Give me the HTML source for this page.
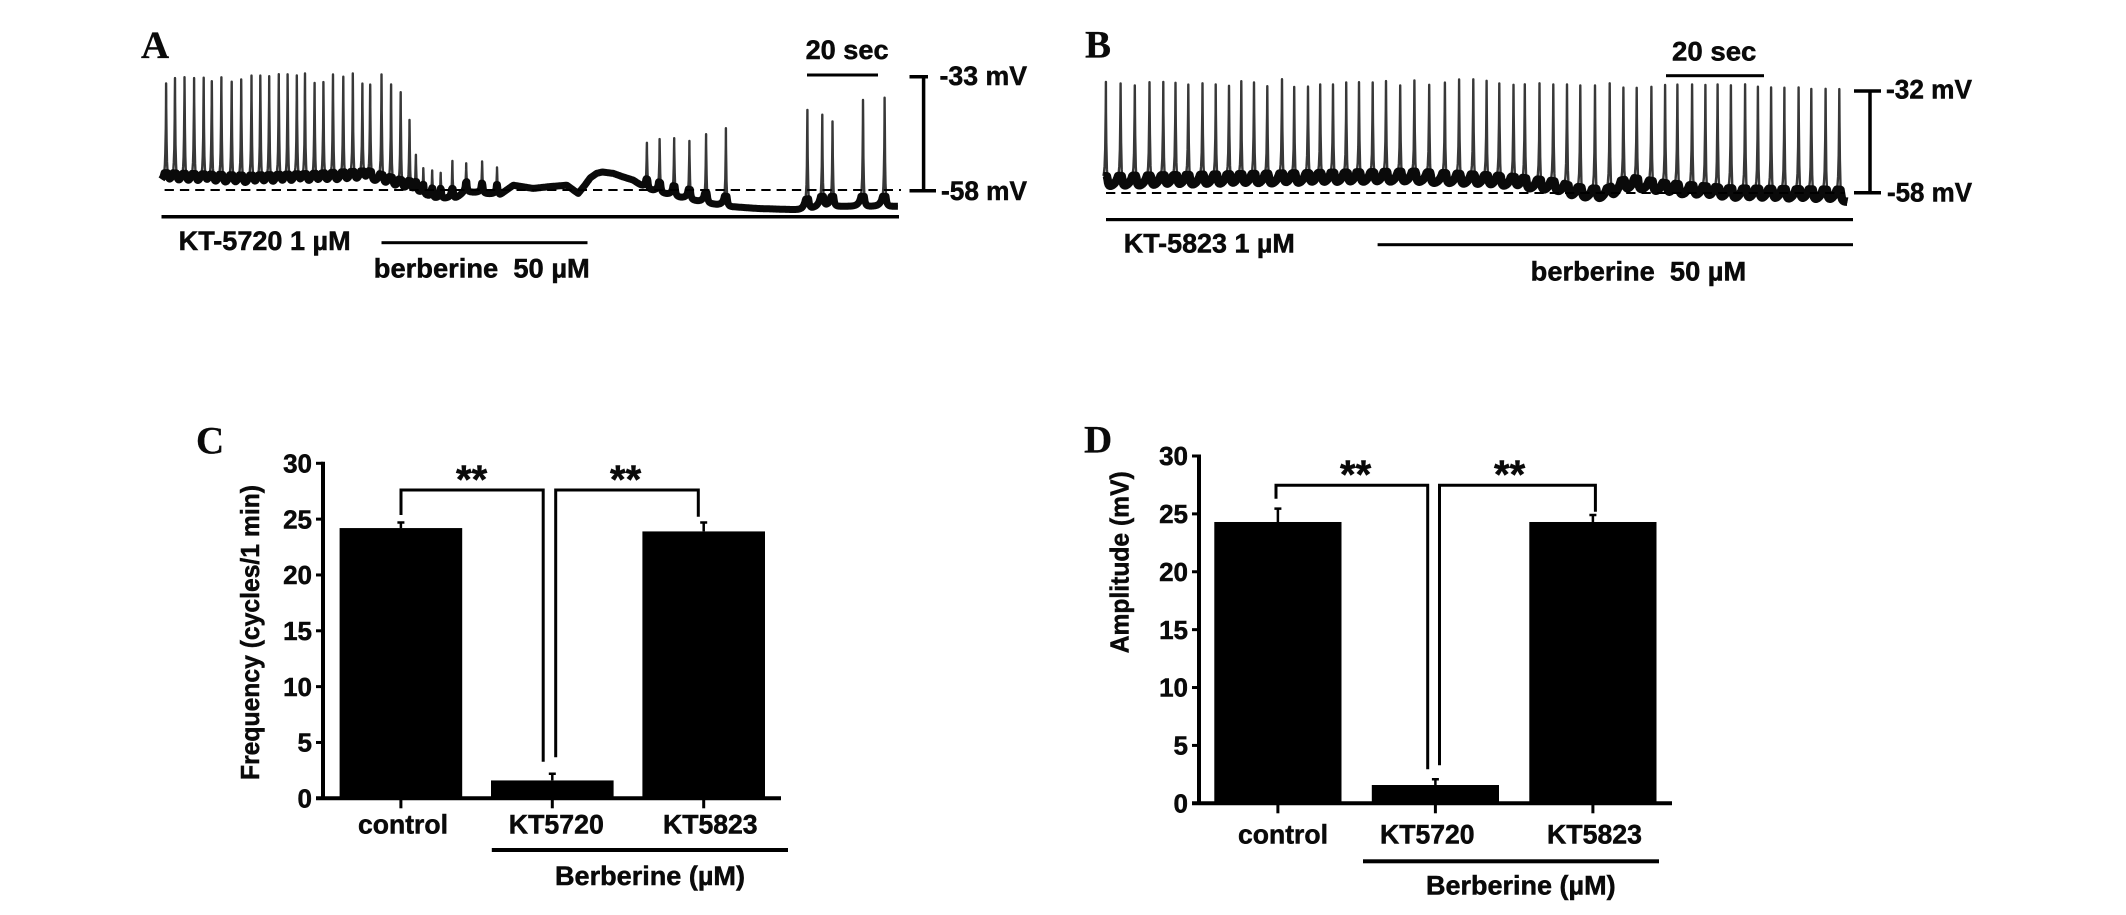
<!DOCTYPE html>
<html lang="en">
<head>
<meta charset="utf-8">
<title>KT-5720 and KT-5823 effects on berberine responses</title>
<style>
html,body{margin:0;padding:0;background:#fff;}
svg{display:block;}
text{font-family:"Liberation Sans",sans-serif;font-weight:700;fill:#0a0a0a;stroke:#0a0a0a;stroke-width:.5px;}
.serif{font-family:"Liberation Serif",serif;font-size:39px;stroke-width:.3px;}
</style>
</head>
<body>
<svg id="figure" width="2126" height="915" viewBox="0 0 2126 915" xmlns="http://www.w3.org/2000/svg">
<rect width="2126" height="915" fill="#fff"/>

<g id="panelA">
<text class="serif" x="141" y="58">A</text>
<g id="traceA"></g>
<line x1="164.6" x2="901" y1="190" y2="190" stroke="#000" stroke-width="2" stroke-dasharray="9.3 6"/>
<rect x="161.5" y="215" width="737.5" height="3.5" fill="#000"/>
<text x="178.7" y="250" font-size="27" textLength="172" lengthAdjust="spacingAndGlyphs">KT-5720 1 µM</text>
<rect x="381.5" y="241.2" width="206" height="3" fill="#000"/>
<text x="373.8" y="277.7" font-size="27" textLength="216" lengthAdjust="spacingAndGlyphs" xml:space="preserve">berberine  50 µM</text>
<text x="805.6" y="59" font-size="27" textLength="83" lengthAdjust="spacingAndGlyphs">20 sec</text>
<rect x="807" y="73.5" width="71" height="3" fill="#000"/>
<path d="M909.5 76.7H928M923.6 76.7V190.7M909.5 190.7H936" stroke="#000" stroke-width="3.5" fill="none"/>
<text x="939.5" y="85" font-size="27" textLength="87.5" lengthAdjust="spacingAndGlyphs">-33 mV</text>
<text x="941" y="200" font-size="27" textLength="86" lengthAdjust="spacingAndGlyphs">-58 mV</text>
</g>

<g id="panelB">
<text class="serif" x="1085" y="57.3">B</text>
<g id="traceB"></g>
<line x1="1106" x2="1845" y1="193" y2="193" stroke="#000" stroke-width="2" stroke-dasharray="9.3 6"/>
<rect x="1106" y="218" width="747" height="3.2" fill="#000"/>
<text x="1123.8" y="252.3" font-size="27" textLength="171" lengthAdjust="spacingAndGlyphs">KT-5823 1 µM</text>
<rect x="1377.6" y="243.2" width="475.4" height="3" fill="#000"/>
<text x="1530.7" y="280.7" font-size="27" textLength="215.5" lengthAdjust="spacingAndGlyphs" xml:space="preserve">berberine  50 µM</text>
<text x="1672" y="60.7" font-size="27" textLength="84.4" lengthAdjust="spacingAndGlyphs">20 sec</text>
<rect x="1666" y="74.2" width="98" height="3" fill="#000"/>
<path d="M1854 91H1881M1870 91V192.7M1854 192.7H1881" stroke="#000" stroke-width="3.5" fill="none"/>
<text x="1886" y="98.3" font-size="27" textLength="86" lengthAdjust="spacingAndGlyphs">-32 mV</text>
<text x="1887" y="201.7" font-size="27" textLength="85" lengthAdjust="spacingAndGlyphs">-58 mV</text>
</g>

<g id="panelC">
<text class="serif" x="196" y="453.3">C</text>
<text transform="translate(258.8,780) rotate(-90)" font-size="26" textLength="295" lengthAdjust="spacingAndGlyphs">Frequency (cycles/1 min)</text>
<g id="chartC"></g>
<path d="M401 515V490H543.2V761.7" stroke="#000" stroke-width="3" fill="none"/>
<path d="M555.7 757.3V490H698.3V516.7" stroke="#000" stroke-width="3" fill="none"/>
<text x="456" y="493" font-size="40">**</text>
<text x="610" y="493" font-size="40">**</text>
<rect x="491.8" y="848" width="296.2" height="4" fill="#000"/>
<text x="555" y="885" font-size="27" textLength="190" lengthAdjust="spacingAndGlyphs">Berberine (µM)</text>
</g>

<g id="panelD">
<text class="serif" x="1084" y="452.3">D</text>
<text transform="translate(1128.4,653.3) rotate(-90)" font-size="26" textLength="182" lengthAdjust="spacingAndGlyphs">Amplitude (mV)</text>
<g id="chartD"></g>
<path d="M1276 498.7V485.3H1427.7V769.3" stroke="#000" stroke-width="3" fill="none"/>
<path d="M1439.5 765.3V485.3H1595.4V511.7" stroke="#000" stroke-width="3" fill="none"/>
<text x="1340" y="488" font-size="40">**</text>
<text x="1494" y="488" font-size="40">**</text>
<rect x="1363" y="859.3" width="296" height="4" fill="#000"/>
<text x="1426" y="894.3" font-size="27" textLength="189.6" lengthAdjust="spacingAndGlyphs">Berberine (µM)</text>
</g>
</svg>

<script>
// Trace A: spike times (s), spike peaks (mV), baseline knots (s, mV)
const spikeTimesA = [1.3,3.8,6.5,9.2,11.9,14.2,16.9,19.8,22.5,25.4,27.9,30.4,33.1,35.6,38.2,40.5,43.2,45.7,48.4,51.3,54,56.7,58.9,62.1,64.8,67.5,70,71.8,73.9,76.4,78.8,82.1,86,90.5,94.7,137,140.6,144.7,149,153.7,159.3,182.3,186.5,189.4,198,204.1];
const spikePeaksA = [-34.6,-33.4,-33.2,-33.4,-33.4,-34.1,-33.2,-34.2,-33.7,-32.9,-32.9,-33,-32.6,-32.6,-32.9,-32.4,-34.5,-34.3,-32.6,-33.1,-32.4,-34.7,-34.8,-32.6,-34.8,-36.5,-42.6,-50.2,-53.1,-53.6,-54.1,-51.5,-52,-51.6,-52.9,-47.5,-46.7,-46.5,-47.1,-45.6,-44.3,-40.3,-41.4,-42.8,-38.1,-37.6];
const baseTimesA = [0,24.3,42.3,58.5,67.3,72,76.7,82.8,86.1,91.3,95.5,99.3,104.9,109.6,114.4,117.6,119.5,121,122.8,124.5,127.5,130,133.2,136.5,144.9,152.1,159.3,168.3,180.9,186.3,207.9];
const baseVoltsA = [-56.2,-56.8,-56.4,-55.8,-57.7,-58.2,-59.7,-59.7,-58.2,-58.6,-58.9,-56.8,-57.5,-57.1,-56.8,-58.6,-56.8,-55.2,-54.2,-53.9,-54.2,-54.9,-55.7,-57.5,-59.2,-60.4,-61.4,-61.9,-62.2,-61.4,-61.4];

// Trace B
const spikeTimesB = [0.5,3.5,6.4,9.4,12.2,14.7,17.3,20.2,22.9,25.6,28.1,30.7,33.4,36.4,38.9,41.7,44.2,46.8,49.5,52.1,54.9,57.6,60.5,63.4,66.4,69.6,72.5,75.4,78.1,80.7,83.6,85.9,88.9,91.7,94.5,97.2,100.2,103.2,106,108.7,111.7,114.5,117,120,122.7,125.2,127.9,130.8,133.4,136.1,138.8,141.7,144.3,147.2,150];
const spikePeaksB = [-29.8,-30.2,-30.7,-29.9,-29.9,-30.1,-30.5,-30.2,-30.5,-30.9,-29.7,-30,-30.9,-29.2,-31.1,-31.1,-30.5,-30.5,-30,-29.9,-30,-29.6,-30.7,-29.4,-30.5,-30,-29.2,-29.2,-29.6,-30.2,-30.7,-30.4,-30.2,-30.5,-30.5,-30.7,-30.7,-30.2,-31.3,-31.3,-31.1,-30.7,-30.5,-30.5,-30.7,-30.5,-30.7,-30.5,-31.1,-31.3,-31.3,-31.3,-31.6,-31.6,-31.5];
const baseTimesB = [0,62.7,82.2,92.6,95.5,100,103,105.5,108.2,114.7,127.7,151.7];
const baseVoltsB = [-56.8,-55.6,-56.8,-58.2,-59.4,-60,-59.8,-57.9,-57.3,-58.6,-59.9,-60.3];

// Bar chart C
const categoriesC = ['control','KT5720','KT5823'];
const frequencyValues = [24.2,1.6,23.9];
const frequencyErrors = [0.5,0.6,0.8];
// Bar chart D
const categoriesD = ['control','KT5720','KT5823'];
const amplitudeValues = [24.3,1.58,24.3];
const amplitudeErrors = [1.15,0.5,0.6];
// Shared y-axis ticks
const yTickValues = [0,5,10,15,20,25,30];

const NS = 'http://www.w3.org/2000/svg';
function make(tag, parent, props, text) {
  const n = document.createElementNS(NS, tag);
  for (const k in props) n.setAttribute(k, props[k]);
  if (text !== undefined) n.textContent = text;
  parent.appendChild(n);
  return n;
}
function lerp(xs, ys, x) {
  if (x <= xs[0]) return ys[0];
  for (let i = 1; i < xs.length; i++) {
    if (x <= xs[i]) return ys[i-1] + (ys[i]-ys[i-1]) * (x-xs[i-1]) / (xs[i]-xs[i-1]);
  }
  return ys[ys.length-1];
}
function drawTrace(group, spikeT, spikeP, baseT, baseV, xOf, yOf, tMax, tauFast, tauPre, tauPost, bandH, bandW) {
  const times = [];
  for (let t = 0; t <= tMax; t += 0.12) times.push(t);
  spikeT.forEach(function (s) { times.push(s - 0.04, s, s + 0.04); });
  times.sort(function (a, b) { return a - b; });
  const thin = [], thick = [];
  times.forEach(function (t) {
    const b = lerp(baseT, baseV, t);
    let v = b;
    spikeT.forEach(function (s, i) {
      const d = Math.abs(t - s);
      if (d > 6) return;
      const k = 0.8 * Math.exp(-d / tauFast);
      const slow = 0.2 * Math.exp(-d / (t < s ? tauPre : tauPost));
      v += (spikeP[i] - b) * Math.min(1, k + slow);
    });
    const x = xOf(t).toFixed(1);
    thin.push(x + ' ' + yOf(v).toFixed(1));
    thick.push(x + ' ' + yOf(Math.min(v, b + bandH)).toFixed(1));
  });
  const spikes = make('path', group, {d: 'M' + thin.join('L'), fill: 'none', stroke: '#383838', 'stroke-width': 2.4, 'stroke-linejoin': 'round'});
  
  
  const band = make('path', group, {d: 'M' + thick.join('L'), fill: 'none', stroke: '#0a0a0a', 'stroke-width': bandW, 'stroke-linejoin': 'round'});
  
  
}
drawTrace(document.getElementById('traceA'), spikeTimesA, spikePeaksA, baseTimesA, baseVoltsA,
  function (t) { return 161.5 + t * 3.543; },
  function (mv) { return 190.7 + (-58 - mv) * 4.56; }, 207.9, 0.13, 0.7, 0.35, 2.2, 7);
drawTrace(document.getElementById('traceB'), spikeTimesB, spikePeaksB, baseTimesB, baseVoltsB,
  function (t) { return 1103.4 + t * 4.906; },
  function (mv) { return 192.7 + (-58 - mv) * 3.91; }, 151.7, 0.1, 0.8, 0.25, 3, 8.5);

function drawBars(group, cfg) {
  const yOf = function (v) { return cfg.y0 - v * (cfg.y0 - cfg.y30) / 30; };
  const xOf = function (i) { return cfg.barStart + i * cfg.barStep; };
  cfg.values.forEach(function (v, i) {
    const cx = xOf(i) + cfg.barWidth / 2;
    const bar = make('rect', group, {x: xOf(i), y: yOf(v), width: cfg.barWidth, height: cfg.y0 - yOf(v), fill: '#000'});
    
    
    const top = yOf(v + cfg.errors[i]);
    const err = make('path', group, {d: 'M' + cx + ' ' + yOf(v) + 'V' + top + 'M' + (cx - 3.5) + ' ' + top + 'H' + (cx + 3.5), stroke: '#000', 'stroke-width': 2.5, fill: 'none'});
    
    
    const tick = make('line', group, {x1: cx, x2: cx, y1: cfg.y0, y2: cfg.y0 + 10, stroke: '#000', 'stroke-width': 3});
    
    
    const label = make('text', group, {x: cfg.labelX[i], y: cfg.labelY, 'font-size': 27, textLength: cfg.labelW[i], lengthAdjust: 'spacingAndGlyphs'}, cfg.categories[i]);
    
    
  });
  const yAxis = make('line', group, {x1: cfg.axisX, x2: cfg.axisX, y1: cfg.y30 - 1.5, y2: cfg.y0 + 1.5, stroke: '#000', 'stroke-width': 4});
  
  
  const xAxis = make('line', group, {x1: cfg.axisX - 7, x2: cfg.axisEnd, y1: cfg.y0, y2: cfg.y0, stroke: '#000', 'stroke-width': 4});
  
  
  yTickValues.forEach(function (v) {
    const y = yOf(v);
    const tick = make('line', group, {x1: cfg.axisX - 7, x2: cfg.axisX, y1: y, y2: y, stroke: '#000', 'stroke-width': 3});
    
    
    const label = make('text', group, {x: cfg.axisX - 11, y: y + 9.2, 'font-size': 26, 'text-anchor': 'end'}, String(v));
    
    
  });
}
drawBars(document.getElementById('chartC'), {
  categories: categoriesC, values: frequencyValues, errors: frequencyErrors,
  y0: 798.3, y30: 463.3, barStart: 339.6, barStep: 151.4, barWidth: 122.6,
  axisX: 323, axisEnd: 781, labelX: [358, 508.8, 663], labelW: [90, 95, 94.6], labelY: 833.3
});
drawBars(document.getElementById('chartD'), {
  categories: categoriesD, values: amplitudeValues, errors: amplitudeErrors,
  y0: 803.3, y30: 456, barStart: 1214.3, barStep: 157.5, barWidth: 127.2,
  axisX: 1199, axisEnd: 1672, labelX: [1238, 1380, 1547], labelW: [90, 94.6, 95], labelY: 843.3
});
</script>
</body>
</html>
